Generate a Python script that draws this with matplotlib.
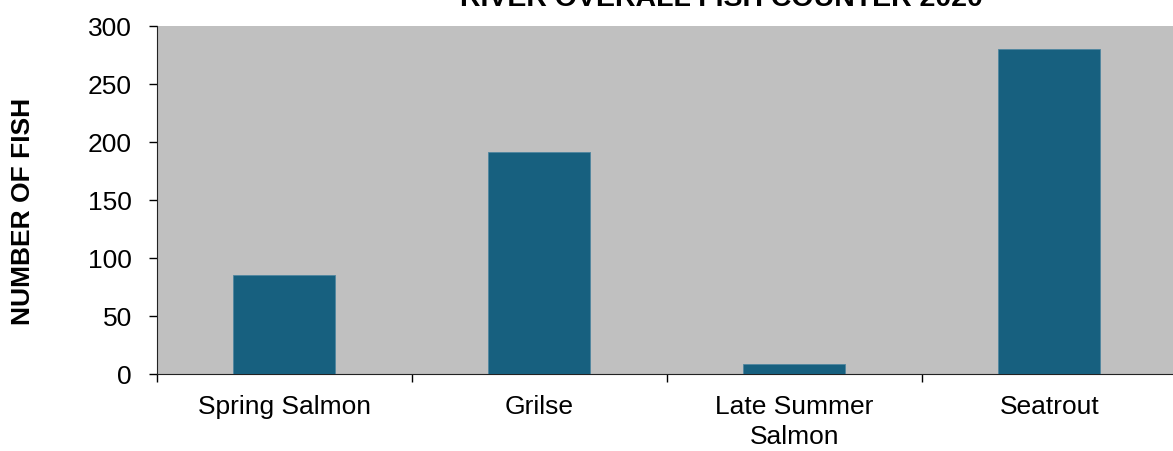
import matplotlib
matplotlib.use("Agg")
import matplotlib.pyplot as plt
import numpy as np

plt.rcParams['font.family'] = ['Liberation Sans', 'DejaVu Sans']

categories = ["Spring Salmon", "Grilse", "Late Summer\nSalmon", "Seatrout"]
counts = [85, 191, 9, 280]
yticks = [0, 50, 100, 150, 200, 250, 300]
title = "RIVER OVERALL FISH COUNTER 2020"


def main():
    fig = plt.figure(figsize=(11.73, 4.51), dpi=100)
    ax = fig.add_axes([0.1338, 0.1707, 0.8696, 0.7716])
    ax.set_facecolor("#C0C0C0")

    x = np.arange(len(categories))
    ax.bar(x, counts, width=0.4, color="#17607F", edgecolor="#4F86A0",
           linewidth=0.6, zorder=3)

    ax.set_xlim(-0.5, len(categories) - 0.5)
    ax.set_ylim(0, 300)
    ax.set_yticks(yticks)
    ax.set_yticklabels([str(v) for v in yticks], fontsize=19)

    # category labels sit between boundary ticks
    ax.set_xticks(np.arange(len(categories) + 1) - 0.5)
    ax.set_xticklabels([])
    ax.set_xticks(x, minor=True)
    ax.set_xticklabels(categories, minor=True, fontsize=19,
                       linespacing=1.3)
    ax.tick_params(axis='x', which='minor', length=0, pad=15)
    ax.tick_params(axis='x', which='major', length=6, width=1,
                   direction='out')
    ax.tick_params(axis='y', length=6, width=1, direction='out', pad=12)

    for side in ['top', 'right']:
        ax.spines[side].set_visible(False)
    ax.spines['left'].set_color("#222222")
    ax.spines['bottom'].set_color("#222222")

    fig.text(0.020, 0.532, "NUMBER OF FISH", rotation=90, fontsize=19,
             fontweight='bold', ha='center', va='center')
    fig.text(0.615, 0.987, title, fontsize=20.5, fontweight='bold',
             ha='center', va='baseline')

    fig.savefig("out.png", dpi=100)


if __name__ == "__main__":
    main()
